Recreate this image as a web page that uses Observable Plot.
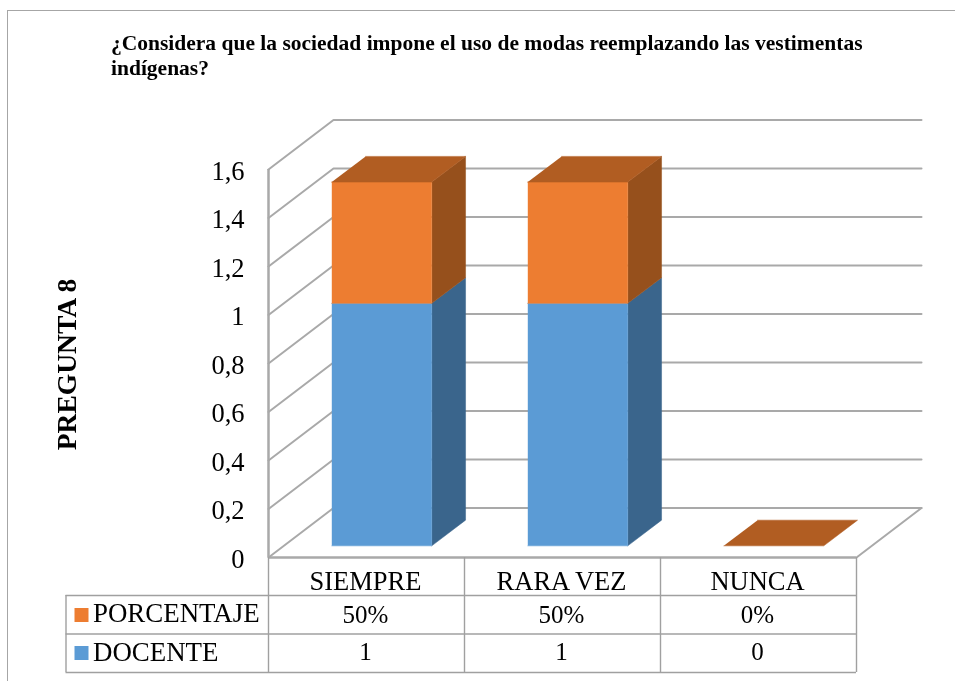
<!DOCTYPE html>
<html lang="es">
<head>
<meta charset="utf-8">
<script src="https://cdn.jsdelivr.net/npm/d3@7"></script>
<script src="https://cdn.jsdelivr.net/npm/@observablehq/plot@0.6"></script>
<style>
  html, body { margin: 0; padding: 0; background: #fff; }
  #page { position: relative; width: 955px; height: 681px; overflow: hidden; filter: blur(0.35px); }
  #frame { position: absolute; left: 7px; top: 10px; width: 960px; height: 700px; border: 1px solid #a6a6a6; box-sizing: border-box; }
  #title { position: absolute; left: 111px; top: 31px; width: 790px; margin: 0; font: bold 21.5px/24.5px "Liberation Serif", serif; color: #000; }
  #chart { position: absolute; left: 0; top: 0; }
  svg { display: block; overflow: visible; }
</style>
</head>
<body>
<div id="page">
  <div id="frame"></div>
  <div id="chart"></div>
  <h1 id="title">¿Considera que la sociedad impone el uso de modas reemplazando las vestimentas indígenas?</h1>
</div>
<script>
const titleText = "¿Considera que la sociedad impone el uso de modas reemplazando las vestimentas indígenas?";
const yTitle = "PREGUNTA 8";
const categories = ["SIEMPRE", "RARA VEZ", "NUNCA"];
const docente = [1, 1, 0];
const porcentaje = [0.5, 0.5, 0];
const docenteLabels = ["1", "1", "0"];
const porcentajeLabels = ["50%", "50%", "0%"];
const yTicks = [0, 0.2, 0.4, 0.6, 0.8, 1, 1.2, 1.4, 1.6];

// Oblique projection: depth 0 is the front plane, 1 the back wall.
const depthX = 65 / 196, depthY = 49.5 / 242.5;
const X = (x, d) => x + d * depthX;
const Y = (y, d) => y + d * depthY;
const barNear = 0.235, barFar = 0.755, barWidth = 0.51;

const grey = "#a9a9a9", tableGrey = "#a0a0a0";
const blue = "#5b9bd5", blueSide = "#3a658c";
const orange = "#ed7d31", orangeTop = "#b15d22", orangeSide = "#96501c";

function faces(kind) {
  const rows = [];
  categories.forEach((c, i) => {
    const a = i + 0.5 - barWidth / 2, b = i + 0.5 + barWidth / 2;
    const y0 = docente[i], y1 = docente[i] + porcentaje[i];
    const quad = (id, pts) => pts.forEach(([x, y, d]) => rows.push({id: id + i, x: X(x, d), y: Y(y, d)}));
    const n = barNear, f = barFar;
    if (kind === "blueFront" && y0 > 0) quad("bf", [[a,0,n],[b,0,n],[b,y0,n],[a,y0,n]]);
    if (kind === "blueSide" && y0 > 0) quad("bs", [[b,0,n],[b,0,f],[b,y0,f],[b,y0,n]]);
    if (kind === "orangeFront" && y1 > y0) quad("of", [[a,y0,n],[b,y0,n],[b,y1,n],[a,y1,n]]);
    if (kind === "orangeSide" && y1 > y0) quad("os", [[b,y0,n],[b,y0,f],[b,y1,f],[b,y1,n]]);
    if (kind === "orangeTop") quad("ot", [[a,y1,n],[b,y1,n],[b,y1,f],[a,y1,f]]);
  });
  return rows;
}
const face = (kind, color) => Plot.line(faces(kind), {x: "x", y: "y", z: "id", fill: color, stroke: color, strokeWidth: 0.5, curve: "linear"});

// Walls
const wallRows = [];
yTicks.forEach((t, i) => {
  [[0, t, 0], [0, t, 1], [3, t, 1]].forEach(([x, y, d]) => wallRows.push({id: "g" + i, x: X(x, d), y: Y(y, d)}));
});
[[3, 0, 0], [3, 0, 1]].forEach(([x, y, d]) => wallRows.push({id: "floor", x: X(x, d), y: Y(y, d)}));

// Table rows, measured downward from the axis base in pixels
const rowOffsets = [38, 76.5, 115];
const pxY = -1.6 / 388;
const labelCol = -202.5 / 196;
const tableBottom = rowOffsets[2] * pxY;
const catCenters = categories.map((c, i) => i + 0.5);
const textOpt = {fontSize: 25, fill: "#000", lineAnchor: "middle", dx: -1};
const headOpt = {...textOpt, fontSize: 26.5};
const rowOpt = {fontSize: 26.9, fill: "#000", lineAnchor: "middle", textAnchor: "start"};

const plot = Plot.plot({
  width: 955,
  height: 681,
  marginLeft: 268,
  marginRight: 99,
  marginTop: 169,
  marginBottom: 124,
  style: {fontFamily: '"Liberation Serif", serif', background: "transparent", overflow: "visible"},
  x: {domain: [0, 3], axis: null},
  y: {domain: [0, 1.6]},
  marks: [
    Plot.line(wallRows, {x: "x", y: "y", z: "id", stroke: grey, strokeWidth: 2, curve: "linear"}),
    Plot.ruleX([0], {y1: 0, y2: 1.6, stroke: grey, strokeWidth: 2.5}),
    Plot.ruleY([0], {x1: 0, x2: 3, stroke: grey, strokeWidth: 2.5}),
    // table
    Plot.ruleX([0, 1, 2, 3], {y1: 0, y2: tableBottom, stroke: tableGrey, strokeWidth: 1.4}),
    Plot.ruleX([labelCol], {y1: rowOffsets[0] * pxY, y2: tableBottom, stroke: tableGrey, strokeWidth: 1.4}),
    Plot.ruleY(rowOffsets.map(o => o * pxY), {x1: labelCol, x2: 3, stroke: tableGrey, strokeWidth: 1.4}),
    // bars
    face("blueSide", blueSide),
    face("blueFront", blue),
    face("orangeSide", orangeSide),
    face("orangeFront", orange),
    face("orangeTop", orangeTop),
    // y axis
    Plot.axisY({ticks: yTicks, tickSize: 0, tickPadding: 24, fontSize: 26.5, label: null, dy: 2,
      tickFormat: d => String(d).replace(".", ",")}),
    Plot.text([yTitle], {x: 0, y: 0.8, dx: -201, dy: 1, text: d => d, rotate: -90, fontSize: 27.5, fontWeight: "bold", fill: "#000"}),
    // table texts
    Plot.text(categories, {x: catCenters, y: 0, dy: 24, text: d => d, ...headOpt}),
    Plot.text(porcentajeLabels, {x: catCenters, y: 0, dy: 57.5, text: d => d, ...textOpt}),
    Plot.text(docenteLabels, {x: catCenters, y: 0, dy: 94.5, text: d => d, ...textOpt}),
    Plot.text(["PORCENTAJE"], {x: labelCol, y: 0, dx: 27, dy: 56, text: d => d, ...rowOpt}),
    Plot.text(["DOCENTE"], {x: labelCol, y: 0, dx: 27, dy: 94.5, text: d => d, ...rowOpt}),
    Plot.dot([orange], {x: labelCol, y: 0, dx: 15.5, dy: 57.5, symbol: "square", r: 7.9, fill: d => d, stroke: "none"}),
    Plot.dot([blue], {x: labelCol, y: 0, dx: 15.5, dy: 95.5, symbol: "square", r: 7.9, fill: d => d, stroke: "none"})
  ]
});
document.getElementById("chart").appendChild(plot);
document.getElementById("title").textContent = titleText;
</script>
</body>
</html>
